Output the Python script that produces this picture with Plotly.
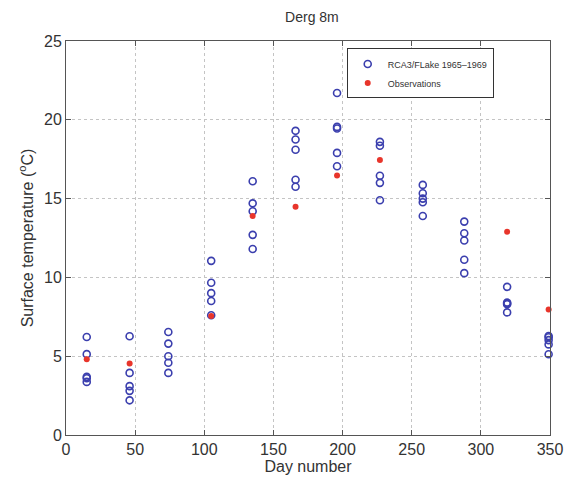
import plotly.graph_objects as go

# Model (RCA3/FLake 1965-1969), five years per mid-month day
model_days = [15, 46, 74, 105, 135, 166, 196, 227, 258, 288, 319, 349]
model_vals = [
    [6.22, 5.13, 3.69, 3.6, 3.37],
    [6.27, 3.94, 3.1, 2.8, 2.2],
    [6.54, 5.8, 5.0, 4.58, 3.94],
    [11.05, 9.66, 9.0, 8.5, 7.6],
    [16.1, 14.7, 14.2, 12.7, 11.8],
    [19.3, 18.75, 18.1, 16.2, 15.75],
    [21.7, 19.55, 19.45, 17.9, 17.05],
    [18.6, 18.35, 16.45, 16.0, 14.9],
    [15.87, 15.34, 15.0, 14.77, 13.9],
    [13.54, 12.8, 12.34, 11.12, 10.27],
    [9.4, 8.4, 8.3, 8.35, 7.78],
    [6.28, 6.2, 6.02, 5.75, 5.12],
]

obs_days = [15, 46, 105, 135, 166, 196, 227, 319, 349]
obs_vals = [4.8, 4.54, 7.55, 13.9, 14.48, 16.47, 17.45, 12.9, 7.97]

mx, my = [], []
for d, vals in zip(model_days, model_vals):
    for v in vals:
        mx.append(d)
        my.append(v)

FONT = "Liberation Sans, Arial, sans-serif"

fig = go.Figure()
fig.add_trace(go.Scatter(
    x=mx, y=my, mode="markers", name="RCA3/FLake 1965\u20131969",
    marker=dict(symbol="circle-open", size=7, color="#3b3fae", line=dict(width=1.6, color="#3b3fae")),
    cliponaxis=False,
))
fig.add_trace(go.Scatter(
    x=obs_days, y=obs_vals, mode="markers", name="Observations",
    marker=dict(symbol="circle", size=6, color="#e8352b"),
    cliponaxis=False,
))

axis_common = dict(
    showline=True, linecolor="#555555", linewidth=1, mirror="ticks",
    ticks="inside", ticklen=5, tickcolor="#555555",
    showgrid=True, gridcolor="#c4c4c4", griddash="dot", gridwidth=1,
    zeroline=False,
    tickfont=dict(family=FONT, size=16, color="#333333"),
)

fig.update_layout(
    width=575, height=485,
    margin=dict(l=66, r=17, t=41, b=50),
    paper_bgcolor="white", plot_bgcolor="white",
    title=dict(text="Derg 8m", x=0.5425, xanchor="center", y=0.965, yanchor="middle",
               font=dict(family=FONT, size=14, color="#333333")),
    xaxis=dict(range=[0, 350], tickvals=[0, 50, 100, 150, 200, 250, 300, 350],
               title=dict(text="Day number", standoff=2,
                          font=dict(family=FONT, size=16, color="#333333")),
               **axis_common),
    yaxis=dict(range=[0, 25], tickvals=[0, 5, 10, 15, 20, 25],
               title=dict(text="Surface temperature (<sup>o</sup>C)", standoff=6,
                          font=dict(family=FONT, size=16, color="#333333")),
               **axis_common),
    legend=dict(x=0.58, y=0.981, xanchor="left", yanchor="top",
                bordercolor="#333333", borderwidth=1, bgcolor="white",
                font=dict(family=FONT, size=9, color="#333333"),
                itemsizing="trace", tracegroupgap=0),
    showlegend=True,
)

fig.write_html("out.html")
